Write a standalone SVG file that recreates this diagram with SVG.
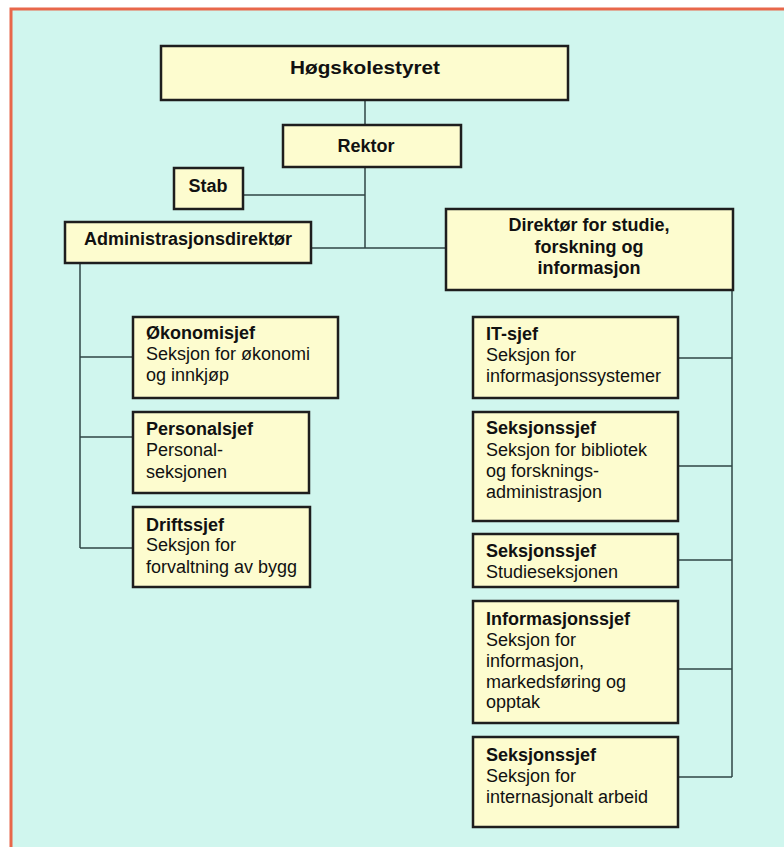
<svg xmlns="http://www.w3.org/2000/svg" width="784" height="847" viewBox="0 0 784 847">
<style>
.box{fill:#FDFCCF;stroke:#1E1E1E;stroke-width:2.5}
.c{fill:none;stroke:#2F4646;stroke-width:1.5}
text{font-family:"Liberation Sans",Arial,sans-serif;font-size:18px;fill:#111}
.b{font-weight:bold}
.m{text-anchor:middle}
</style>
<rect x="0" y="0" width="784" height="847" fill="#FFFFFF"/>
<rect x="11" y="9" width="790" height="860" fill="#D0F6EE" stroke="#E8674A" stroke-width="3"/>
<g id="connectors">
<path class="c" d="M365 100V125M365 167V248M243 195H365M311 248H446M732 290V777"/>
<path class="c" d="M80 263V548M80 357H133M80 437H133M80 548H133"/>
<path class="c" d="M678 358H732M678 466H732M678 560H732M678 669H732M678 777H732"/>
</g>
<g id="hogskolestyret"><rect class="box" x="161" y="46" width="407" height="54"/><text class="b m" x="365" y="74" font-size="20" textLength="150" lengthAdjust="spacingAndGlyphs">Høgskolestyret</text></g>
<g id="rektor"><rect class="box" x="283" y="125" width="178" height="42"/><text class="b m" x="366" y="152">Rektor</text></g>
<g id="stab"><rect class="box" x="174" y="168" width="69" height="41"/><text class="b m" x="208" y="192">Stab</text></g>
<g id="admdir"><rect class="box" x="65" y="222" width="246" height="41"/><text class="b m" x="188" y="245">Administrasjonsdirektør</text></g>
<g id="dirstudie"><rect class="box" x="446" y="209" width="287" height="81"/><text class="b m" x="589" y="231">Direktør for studie,</text><text class="b m" x="589" y="253">forskning og</text><text class="b m" x="589" y="274">informasjon</text></g>
<g id="okonomi"><rect class="box" x="133" y="317" width="205" height="81"/><text x="146" y="339"><tspan class="b">Økonomisjef</tspan><tspan x="146" y="360">Seksjon for økonomi</tspan><tspan x="146" y="381">og innkjøp</tspan></text></g>
<g id="personal"><rect class="box" x="133" y="412" width="176" height="81"/><text x="146" y="435"><tspan class="b">Personalsjef</tspan><tspan x="146" y="456">Personal-</tspan><tspan x="146" y="478">seksjonen</tspan></text></g>
<g id="drift"><rect class="box" x="133" y="507" width="177" height="80"/><text x="146" y="531"><tspan class="b">Driftssjef</tspan><tspan x="146" y="551">Seksjon for</tspan><tspan x="146" y="573">forvaltning av bygg</tspan></text></g>
<g id="it"><rect class="box" x="473" y="317" width="205" height="81"/><text x="486" y="340"><tspan class="b">IT-sjef</tspan><tspan x="486" y="361">Seksjon for</tspan><tspan x="486" y="382">informasjonssystemer</tspan></text></g>
<g id="bibliotek"><rect class="box" x="473" y="412" width="205" height="109"/><text x="486" y="434"><tspan class="b">Seksjonssjef</tspan><tspan x="486" y="456">Seksjon for bibliotek</tspan><tspan x="486" y="477">og forsknings-</tspan><tspan x="486" y="498">administrasjon</tspan></text></g>
<g id="studie"><rect class="box" x="473" y="534" width="205" height="53"/><text x="486" y="557"><tspan class="b">Seksjonssjef</tspan><tspan x="486" y="578">Studieseksjonen</tspan></text></g>
<g id="informasjon"><rect class="box" x="473" y="601" width="205" height="122"/><text x="486" y="625"><tspan class="b">Informasjonssjef</tspan><tspan x="486" y="646">Seksjon for</tspan><tspan x="486" y="667">informasjon,</tspan><tspan x="486" y="688">markedsføring og</tspan><tspan x="486" y="708">opptak</tspan></text></g>
<g id="internasjonalt"><rect class="box" x="473" y="737" width="205" height="90"/><text x="486" y="761"><tspan class="b">Seksjonssjef</tspan><tspan x="486" y="782">Seksjon for</tspan><tspan x="486" y="803">internasjonalt arbeid</tspan></text></g>
</svg>
